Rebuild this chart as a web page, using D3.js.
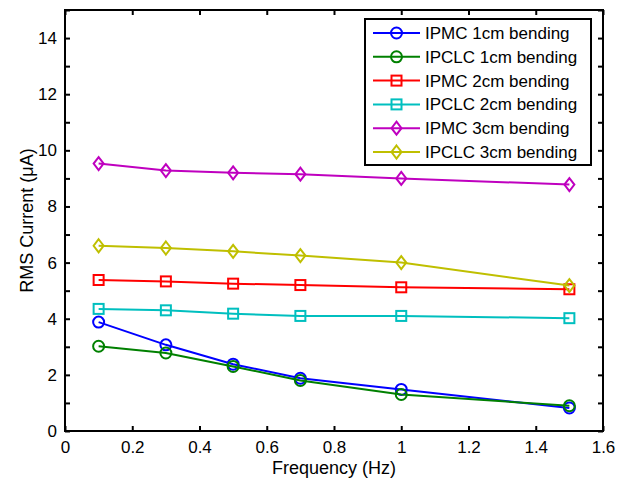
<!DOCTYPE html>
<html lang="en">
<head>
  <meta charset="UTF-8">
  <title>RMS Current vs Frequency</title>
  <script src="https://d3js.org/d3.v7.min.js"></script>
  <style>
    body { margin: 0; background: #fff; }
    text { font-family: "Liberation Sans", Arial, sans-serif; }
  </style>
</head>
<body>
  <div id="chart"></div>
  <script>
    // data
    const freqs = [0.1, 0.3, 0.5, 0.7, 1.0, 1.5];
    const seriesNames = ["IPMC 1cm bending", "IPCLC 1cm bending", "IPMC 2cm bending",
                         "IPCLC 2cm bending", "IPMC 3cm bending", "IPCLC 3cm bending"];
    const ipmc1 = [3.88, 3.07, 2.38, 1.88, 1.48, 0.82];
    const ipclc1 = [3.02, 2.78, 2.30, 1.80, 1.30, 0.90];
    const ipmc2 = [5.38, 5.33, 5.25, 5.20, 5.12, 5.05];
    const ipclc2 = [4.35, 4.30, 4.18, 4.10, 4.10, 4.02];
    const ipmc3 = [9.53, 9.28, 9.20, 9.15, 9.00, 8.78];
    const ipclc3 = [6.60, 6.52, 6.40, 6.25, 6.00, 5.18];
    const xTicks = [0, 0.2, 0.4, 0.6, 0.8, 1, 1.2, 1.4, 1.6];
    const yTicks = [0, 2, 4, 6, 8, 10, 12, 14];

    const seriesValues = [ipmc1, ipclc1, ipmc2, ipclc2, ipmc3, ipclc3];
    const colors = ["#0000ff", "#008000", "#ff0000", "#00bfbf", "#bf00bf", "#bfbf00"];
    const markers = ["circle", "circle", "square", "square", "diamond", "diamond"];

    const width = 625, height = 480;
    const margin = { top: 10, right: 22, bottom: 49, left: 65 };

    const svg = d3.select("#chart").append("svg")
      .attr("width", width)
      .attr("height", height);

    const x = d3.scaleLinear().domain([0, 1.6]).range([margin.left, width - margin.right]);
    const y = d3.scaleLinear().domain([0, 15]).range([height - margin.bottom, margin.top]);

    // axes: ticks point inward, like MATLAB
    const tickLen = 5;
    const yMinor = d3.range(0, 16, 1);

    svg.append("g")
      .attr("transform", `translate(0,${y(0)})`)
      .call(d3.axisBottom(x).tickValues(xTicks).tickSize(-tickLen).tickPadding(10)
        .tickFormat(d => d3.format("~g")(d)))
      .call(g => g.select(".domain").remove());

    svg.append("g")
      .attr("transform", `translate(0,${y(15)})`)
      .call(d3.axisTop(x).tickValues(xTicks).tickSize(-tickLen).tickFormat(""))
      .call(g => g.select(".domain").remove());

    svg.append("g")
      .attr("transform", `translate(${x(0)},0)`)
      .call(d3.axisLeft(y).tickValues(yMinor).tickSize(-tickLen).tickPadding(8)
        .tickFormat(d => yTicks.includes(d) ? d : ""))
      .call(g => g.select(".domain").remove());

    svg.append("g")
      .attr("transform", `translate(${x(1.6)},0)`)
      .call(d3.axisRight(y).tickValues(yMinor).tickSize(-tickLen).tickFormat(""))
      .call(g => g.select(".domain").remove());

    svg.selectAll(".tick line").attr("stroke", "#000").attr("stroke-width", 2);
    svg.selectAll(".tick text").attr("fill", "#000").style("font-size", "17px");

    svg.append("rect")
      .attr("x", x(0)).attr("y", y(15))
      .attr("width", x(1.6) - x(0)).attr("height", y(0) - y(15))
      .attr("fill", "none").attr("stroke", "#000").attr("stroke-width", 2);

    // marker drawer
    function drawMarker(g, type, cx, cy, color) {
      if (type === "circle") {
        g.append("circle").attr("cx", cx).attr("cy", cy).attr("r", 5.5)
          .attr("fill", "none").attr("stroke", color).attr("stroke-width", 2);
      } else if (type === "square") {
        g.append("rect").attr("x", cx - 5).attr("y", cy - 5).attr("width", 10).attr("height", 10)
          .attr("fill", "none").attr("stroke", color).attr("stroke-width", 2);
      } else {
        g.append("path")
          .attr("d", `M${cx},${cy - 6.5}L${cx + 5},${cy}L${cx},${cy + 6.5}L${cx - 5},${cy}Z`)
          .attr("fill", "none").attr("stroke", color).attr("stroke-width", 2);
      }
    }

    const line = d3.line()
      .x((d, i) => x(freqs[i]))
      .y(d => y(d));

    seriesValues.forEach((vals, s) => {
      const g = svg.append("g");
      g.append("path")
        .attr("d", line(vals))
        .attr("fill", "none")
        .attr("stroke", colors[s])
        .attr("stroke-width", 2);
      vals.forEach((v, i) => drawMarker(g, markers[s], x(freqs[i]), y(v), colors[s]));
    });

    // legend
    const legX = 365, legY = 19, legW = 226, legH = 146, rowH = 23.8;
    const leg = svg.append("g");
    leg.append("rect")
      .attr("x", legX).attr("y", legY).attr("width", legW).attr("height", legH)
      .attr("fill", "#fff").attr("stroke", "#000").attr("stroke-width", 2);
    seriesNames.forEach((name, s) => {
      const cy = legY + 14 + s * rowH;
      leg.append("line")
        .attr("x1", legX + 8).attr("x2", legX + 55)
        .attr("y1", cy).attr("y2", cy)
        .attr("stroke", colors[s]).attr("stroke-width", 2);
      drawMarker(leg, markers[s], legX + 31.5, cy, colors[s]);
      leg.append("text")
        .attr("x", legX + 60).attr("y", cy)
        .attr("dy", "0.35em")
        .style("font-size", "17px")
        .text(name);
    });

    // axis labels
    svg.append("text")
      .attr("x", (x(0) + x(1.6)) / 2)
      .attr("y", 474)
      .attr("text-anchor", "middle")
      .style("font-size", "18px")
      .text("Frequency (Hz)");

    svg.append("text")
      .attr("transform", `translate(33,${(y(0) + y(15)) / 2}) rotate(-90)`)
      .attr("text-anchor", "middle")
      .style("font-size", "18px")
      .text("RMS Current (\u03bcA)");
  </script>
</body>
</html>
